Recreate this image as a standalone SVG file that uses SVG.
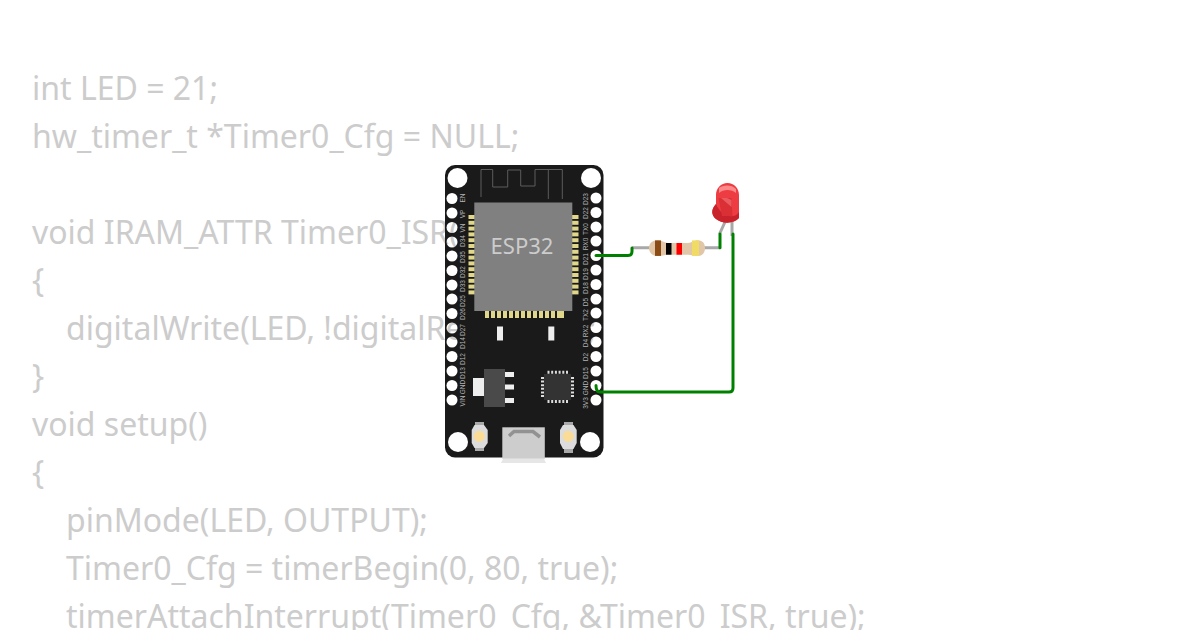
<svg xmlns="http://www.w3.org/2000/svg" width="1200" height="630" viewBox="0 0 1200 630">
<style>
.code{font-family:"Noto Sans","Open Sans",sans-serif;font-size:32px;fill:#ccc}
.pin{font-family:"Liberation Sans",sans-serif;font-size:6.500px;fill:#b4b4b4;text-anchor:middle}
.pad{fill:#e0d78a}
.wire{fill:none;stroke:#008000;stroke-width:3;stroke-linecap:round;stroke-linejoin:round}
.lead{fill:none;stroke:#a8a8a8;stroke-width:3}
.btnbody{fill:#dcdcdc}
.btntab{fill:#a9a9a9}
.btnlight{fill:#fbdc96}
</style>
<defs>
<mask id="holes" maskUnits="userSpaceOnUse" x="440" y="160" width="170" height="305">
<rect x="440" y="160" width="170" height="305" fill="#fff"/>
<g fill="#000">
<circle cx="457.500" cy="178" r="10"/><circle cx="591" cy="178" r="10"/><circle cx="458" cy="442" r="10"/><circle cx="590" cy="442" r="10"/>
<circle cx="452" cy="198.500" r="5.500"/><circle cx="452" cy="213" r="5.500"/><circle cx="452" cy="227.500" r="5.500"/><circle cx="452" cy="242" r="5.500"/><circle cx="452" cy="256" r="5.500"/><circle cx="452" cy="270.500" r="5.500"/><circle cx="452" cy="285" r="5.500"/><circle cx="452" cy="299" r="5.500"/><circle cx="452" cy="313.500" r="5.500"/><circle cx="452" cy="328" r="5.500"/><circle cx="452" cy="342" r="5.500"/><circle cx="452" cy="356.500" r="5.500"/><circle cx="452" cy="371" r="5.500"/><circle cx="452" cy="385.500" r="5.500"/><circle cx="452" cy="400" r="5.500"/>
<circle cx="596" cy="198" r="5.500"/><circle cx="596" cy="212.500" r="5.500"/><circle cx="596" cy="227" r="5.500"/><circle cx="596" cy="241" r="5.500"/><circle cx="596" cy="255.500" r="5.500"/><circle cx="596" cy="270" r="5.500"/><circle cx="596" cy="284.500" r="5.500"/><circle cx="596" cy="299" r="5.500"/><circle cx="596" cy="313" r="5.500"/><circle cx="596" cy="327.500" r="5.500"/><circle cx="596" cy="342" r="5.500"/><circle cx="596" cy="356.500" r="5.500"/><circle cx="596" cy="371" r="5.500"/><circle cx="596" cy="385.500" r="5.500"/><circle cx="596" cy="400" r="5.500"/>
</g>
</mask>
</defs>
<rect width="1200" height="630" fill="#fff"/>
<g id="code">
<text class="code" x="32" y="100">int LED = 21;</text>
<text class="code" x="32" y="148">hw_timer_t *Timer0_Cfg = NULL;</text>
<text class="code" x="32" y="244">void IRAM_ATTR Timer0_ISR()</text>
<text class="code" x="32" y="292">{</text>
<text class="code" x="66" y="340">digitalWrite(LED, !digitalRead(LED));</text>
<text class="code" x="32" y="388">}</text>
<text class="code" x="32" y="436">void setup()</text>
<text class="code" x="32" y="484">{</text>
<text class="code" x="66" y="532">pinMode(LED, OUTPUT);</text>
<text class="code" x="66" y="580">Timer0_Cfg = timerBegin(0, 80, true);</text>
<text class="code" x="66" y="628">timerAttachInterrupt(Timer0_Cfg, &amp;Timer0_ISR, true);</text>
</g>
<g id="esp32">
<rect x="445" y="165" width="158.500" height="292.500" rx="10" fill="#1a1a1a" mask="url(#holes)"/>
<path d="M481 197V169.500H492.700V187H507.700V170H520.700V186H535V169.500H562.300V199M548.300 169.500V199" fill="none" stroke="#5c5c5c" stroke-width="1"/>
<g class="pad">
<rect x="468.500" y="215" width="6.500" height="4"/><rect x="468.500" y="220.800" width="6.500" height="4"/><rect x="468.500" y="226.600" width="6.500" height="4"/><rect x="468.500" y="232.400" width="6.500" height="4"/><rect x="468.500" y="238.200" width="6.500" height="4"/><rect x="468.500" y="244" width="6.500" height="4"/><rect x="468.500" y="249.800" width="6.500" height="4"/><rect x="468.500" y="255.600" width="6.500" height="4"/><rect x="468.500" y="261.400" width="6.500" height="4"/><rect x="468.500" y="267.200" width="6.500" height="4"/><rect x="468.500" y="273" width="6.500" height="4"/><rect x="468.500" y="278.800" width="6.500" height="4"/><rect x="468.500" y="284.600" width="6.500" height="4"/><rect x="468.500" y="290.400" width="6.500" height="4"/>
<rect x="572" y="215" width="6.500" height="4"/><rect x="572" y="220.800" width="6.500" height="4"/><rect x="572" y="226.600" width="6.500" height="4"/><rect x="572" y="232.400" width="6.500" height="4"/><rect x="572" y="238.200" width="6.500" height="4"/><rect x="572" y="244" width="6.500" height="4"/><rect x="572" y="249.800" width="6.500" height="4"/><rect x="572" y="255.600" width="6.500" height="4"/><rect x="572" y="261.400" width="6.500" height="4"/><rect x="572" y="267.200" width="6.500" height="4"/><rect x="572" y="273" width="6.500" height="4"/><rect x="572" y="278.800" width="6.500" height="4"/><rect x="572" y="284.600" width="6.500" height="4"/><rect x="572" y="290.400" width="6.500" height="4"/>
<rect x="485" y="311" width="4" height="7"/><rect x="491" y="311" width="4" height="7"/><rect x="497" y="311" width="4" height="7"/><rect x="503" y="311" width="4" height="7"/><rect x="509" y="311" width="4" height="7"/><rect x="515" y="311" width="4" height="7"/><rect x="521" y="311" width="4" height="7"/><rect x="527" y="311" width="4" height="7"/><rect x="533" y="311" width="4" height="7"/><rect x="539" y="311" width="4" height="7"/><rect x="545" y="311" width="4" height="7"/><rect x="551" y="311" width="4" height="7"/><rect x="557" y="311" width="4" height="7"/><rect x="560" y="311" width="4" height="7"/>
</g>
<rect x="474.300" y="202.500" width="98" height="108.500" fill="#808080"/>
<text x="522" y="253.500" text-anchor="middle" font-family="Noto Sans,Open Sans,sans-serif" font-size="22" fill="#ccc">ESP32</text>
<rect x="497" y="326.500" width="6" height="14" fill="#eee"/><rect x="548.300" y="326.500" width="6" height="14" fill="#eee"/>
<g class="pin">
<text transform="translate(464.500,198) rotate(-90)">EN</text><text transform="translate(464.500,214) rotate(-90)">VP</text><text transform="translate(464.500,228) rotate(-90)">VN</text><text transform="translate(464.500,241) rotate(-90)">D34</text><text transform="translate(464.500,257) rotate(-90)">D35</text><text transform="translate(464.500,272) rotate(-90)">D32</text><text transform="translate(464.500,286) rotate(-90)">D33</text><text transform="translate(464.500,301) rotate(-90)">D25</text><text transform="translate(464.500,314) rotate(-90)">D26</text><text transform="translate(464.500,330) rotate(-90)">D27</text><text transform="translate(464.500,343) rotate(-90)">D14</text><text transform="translate(464.500,359) rotate(-90)">D12</text><text transform="translate(464.500,373) rotate(-90)">D13</text><text transform="translate(464.500,387) rotate(-90)">GND</text><text transform="translate(464.500,401) rotate(-90)">VIN</text>
<text transform="translate(588,199) rotate(-90)">D23</text><text transform="translate(588,213) rotate(-90)">D22</text><text transform="translate(588,229) rotate(-90)">TX0</text><text transform="translate(588,244) rotate(-90)">RX0</text><text transform="translate(588,259) rotate(-90)">D21</text><text transform="translate(588,274) rotate(-90)">D19</text><text transform="translate(588,288) rotate(-90)">D18</text><text transform="translate(588,302) rotate(-90)">D5</text><text transform="translate(588,315) rotate(-90)">TX2</text><text transform="translate(588,331) rotate(-90)">RX2</text><text transform="translate(588,343) rotate(-90)">D4</text><text transform="translate(588,357) rotate(-90)">D2</text><text transform="translate(588,373) rotate(-90)">D15</text><text transform="translate(588,388) rotate(-90)">GND</text><text transform="translate(588,403) rotate(-90)">3V3</text>
</g>
<g id="regulator">
<rect x="473" y="378" width="12" height="18" fill="#eee"/>
<rect x="484" y="369" width="21" height="38" fill="#4a4a4a"/>
<rect x="505" y="372" width="9" height="5" fill="#eee"/><rect x="505" y="384.500" width="9" height="5" fill="#eee"/><rect x="505" y="398" width="9" height="5" fill="#eee"/>
</g>
<g id="qfn">
<rect x="544" y="374" width="27" height="26" fill="#333"/>
<path d="M547.500 372.300H568.500M547.500 401.500H568.500" stroke="#ddd" stroke-width="3" stroke-dasharray="2 1.700" fill="none"/>
<path d="M542.500 377V397M572.500 377V397" stroke="#ddd" stroke-width="3" stroke-dasharray="2 1.600" fill="none"/>
</g>
<g id="usb">
<rect x="502.300" y="427.300" width="42.500" height="31.500" fill="#cdcdcd"/>
<path d="M503 458.700L501 463H546L544 458.700Z" fill="#e6e6e6"/>
<path d="M509 436L514 431.500H533L540 437" fill="none" stroke="#929292" stroke-width="3.500"/>
</g>
<g id="btn1">
<rect x="475" y="422" width="9" height="5" class="btntab"/><rect x="475" y="446" width="9" height="5" class="btntab"/>
<path d="M474.500 425H484L487.700 430V443L484 448H474.500L471.700 443V430Z" class="btnbody"/>
<circle cx="479.300" cy="436.300" r="5.500" class="btnlight"/>
</g>
<g id="btn2">
<rect x="564" y="422" width="9" height="5" class="btntab"/><rect x="564" y="447" width="9" height="6" class="btntab"/>
<path d="M563 425H573.500L576.700 430V443L573.500 449H563L560 443V430Z" class="btnbody"/>
<circle cx="568.300" cy="436.300" r="5.500" class="btnlight"/>
</g>
</g>
<g id="resistor">
<path class="lead" d="M632 247.700H650M704 247.700H720"/>
<path d="M657 240.300C652 240.300 649 244 649 248C649 252 652 256 657 256C662 256 664 254.700 668 254.700H688C692 254.700 694 256 698 256C703 256 705 252 705 248C705 244 703 240.300 698 240.300C694 240.300 692 243 688 243H668C664 243 662 240.300 657 240.300Z" fill="#e2c6a8"/>
<rect x="655" y="240.400" width="6" height="15.500" fill="#8a4b14"/><rect x="666" y="243" width="5.500" height="11.700" fill="#000"/><rect x="676.500" y="243" width="5.500" height="11.700" fill="#f00"/><rect x="692" y="240.400" width="7" height="15.500" fill="#f0dc64"/>
</g>
<g id="led">
<path class="lead" d="M732 222V236M725 222L719.500 234"/>
<path d="M716 195C716 188 721 183 727.500 183C734 183 739 188 739 195V218C734 224 722 224 716 219C711 215 711 209 716 204Z" fill="#ee3d42"/>
<path d="M716 204C711 209 711 215 716 219C722 224 734 224 739 218V212C735 219 722 218 716 204Z" fill="#c8232d"/>
<path d="M719 188C723 184.500 732 184.500 736 189V193C732 189 723 189 719 193Z" fill="#f88"/>
<path d="M718.500 198H731.500L732.500 216H722Z" fill="#d92f35"/>
<path d="M721 198L731.500 207V200L727 198Z" fill="#ea5a5e"/>
</g>
<g id="connectors">
<path class="wire" d="M596 255.500H628Q632 255.500 632 251.500V248"/>
<path class="wire" d="M720 247.700V234"/>
<path class="wire" d="M733 234V388Q733 392 729 392H600Q596 392 596 385.500"/>
</g>
</svg>
